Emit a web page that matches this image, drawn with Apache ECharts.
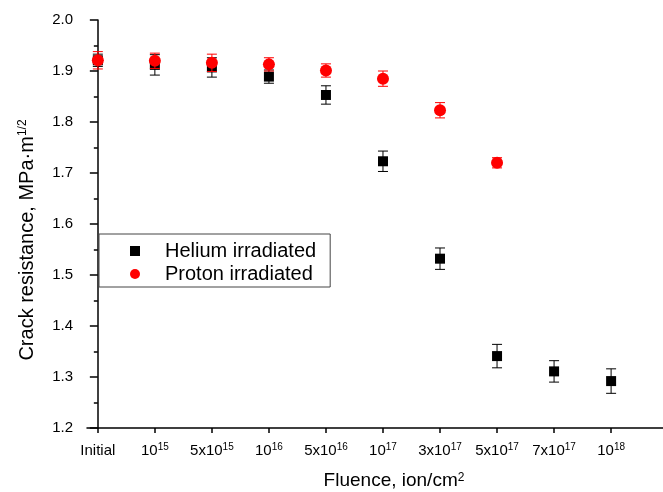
<!DOCTYPE html>
<html>
<head>
<meta charset="utf-8">
<script src="https://cdn.jsdelivr.net/npm/echarts@6/dist/echarts.min.js"></script>
<style>
html,body{margin:0;padding:0;background:#fff;}
#chart{width:663px;height:492px;}
</style>
</head>
<body>
<div id="chart"></div>
<script>
// ---- data ----
var tickLabels = ['Initial', '10{sup|15}', '5x10{sup|15}', '10{sup|16}', '5x10{sup|16}', '10{sup|17}', '3x10{sup|17}', '5x10{sup|17}', '7x10{sup|17}', '10{sup|18}'];
var heliumValues = [1.921, 1.912, 1.907, 1.889, 1.853, 1.723, 1.532, 1.341, 1.311, 1.292];
var heliumErrors = [0.012, 0.020, 0.019, 0.013, 0.018, 0.020, 0.021, 0.023, 0.021, 0.024];
var protonValues = [1.921, 1.920, 1.916, 1.913, 1.901, 1.885, 1.823, 1.720];
var protonErrors = [0.017, 0.015, 0.017, 0.013, 0.013, 0.015, 0.015, 0.010];

function pts(vals) { return vals.map(function (v, i) { return [i, v]; }); }
function errs(vals, e) { return vals.map(function (v, i) { return [i, v, e[i]]; }); }

function errorBar(color) {
  return function (params, api) {
    var x = api.value(0), y = api.value(1), e = api.value(2);
    var top = api.coord([x, y + e]);
    var bot = api.coord([x, y - e]);
    var hw = 5;
    var st = { stroke: color, lineWidth: 1 };
    return {
      type: 'group',
      children: [
        { type: 'line', shape: { x1: top[0], y1: top[1], x2: bot[0], y2: bot[1] }, style: st },
        { type: 'line', shape: { x1: top[0] - hw, y1: top[1], x2: top[0] + hw, y2: top[1] }, style: st },
        { type: 'line', shape: { x1: bot[0] - hw, y1: bot[1], x2: bot[0] + hw, y2: bot[1] }, style: st }
      ]
    };
  };
}

var FONT = 'Liberation Sans, Arial, sans-serif';
var idx = tickLabels.map(function (_, i) { return i; });

var chart = echarts.init(document.getElementById('chart'), null, { renderer: 'canvas' });
chart.setOption({
  animation: false,
  backgroundColor: '#fff',
  grid: { left: 87, right: 0, top: 20, bottom: 64, containLabel: false },
  xAxis: {
    type: 'value',
    min: -0.19,
    max: 9.91,
    splitLine: { show: false },
    axisLine: { lineStyle: { color: '#000', width: 1.5 } },
    axisTick: { customValues: idx, length: 5, lineStyle: { color: '#000', width: 1.5 } },
    axisLabel: {
      customValues: idx,
      margin: 14,
      color: '#000',
      fontFamily: FONT,
      fontSize: 15,
      lineHeight: 18,
      formatter: function (v) { return tickLabels[Math.round(v)]; },
      rich: { sup: { fontSize: 10, lineHeight: 10, verticalAlign: 'top', fontFamily: FONT, color: '#000' } }
    }
  },
  yAxis: {
    type: 'value',
    min: 1.2,
    max: 2.0,
    interval: 0.1,
    splitLine: { show: false },
    axisLine: { show: true, lineStyle: { color: '#000', width: 1.5 } },
    axisTick: { show: true, length: 8, lineStyle: { color: '#000', width: 1.5 } },
    minorTick: { show: true, splitNumber: 2, length: 4, lineStyle: { color: '#000', width: 1.5 } },
    axisLabel: {
      margin: 14,
      color: '#000',
      fontFamily: FONT,
      fontSize: 15,
      formatter: function (v) { return v.toFixed(1); }
    }
  },
  legend: {
    orient: 'vertical',
    left: 99,
    top: 234,
    padding: [7, 14, 3, 31],
    itemGap: 3,
    itemWidth: 10,
    itemHeight: 10,
    borderColor: '#444',
    borderWidth: 1,
    selectedMode: false,
    textStyle: { fontFamily: FONT, fontSize: 20, color: '#000', padding: [0, 0, 0, 20] },
    data: [
      { name: 'Helium irradiated', icon: 'rect', itemStyle: { opacity: 1 } },
      { name: 'Proton irradiated', icon: 'circle', itemStyle: { opacity: 1 } }
    ]
  },
  graphic: [
    {
      type: 'text',
      x: 27, y: 240,
      rotation: Math.PI / 2,
      style: {
        text: 'Crack resistance, MPa·m{sup|1/2}',
        fontFamily: FONT, fontSize: 20, fill: '#000',
        align: 'center', verticalAlign: 'middle',
        rich: { sup: { fontSize: 12, lineHeight: 12, verticalAlign: 'top', fontFamily: FONT, fill: '#000' } }
      }
    },
    {
      type: 'text',
      x: 394, y: 481,
      style: {
        text: 'Fluence, ion/cm{sup|2}',
        fontFamily: FONT, fontSize: 19, fill: '#000',
        align: 'center', verticalAlign: 'middle',
        rich: { sup: { fontSize: 12, lineHeight: 12, verticalAlign: 'top', fontFamily: FONT, fill: '#000' } }
      }
    }
  ],
  series: [
    {
      name: 'Helium irradiated', type: 'scatter', symbol: 'rect', symbolSize: 10,
      itemStyle: { color: '#000', opacity: 1 }, data: pts(heliumValues), z: 2
    },
    {
      name: 'Helium irradiated', type: 'custom', renderItem: errorBar('#000'),
      data: errs(heliumValues, heliumErrors), z: 3, encode: { x: 0, y: 1 }
    },
    {
      name: 'Proton irradiated', type: 'scatter', symbol: 'circle', symbolSize: 12,
      itemStyle: { color: '#ff0000', opacity: 1 }, data: pts(protonValues), z: 4
    },
    {
      name: 'Proton irradiated', type: 'custom', renderItem: errorBar('#ff0000'),
      data: errs(protonValues, protonErrors), z: 5, encode: { x: 0, y: 1 }
    }
  ]
});
</script>
</body>
</html>
